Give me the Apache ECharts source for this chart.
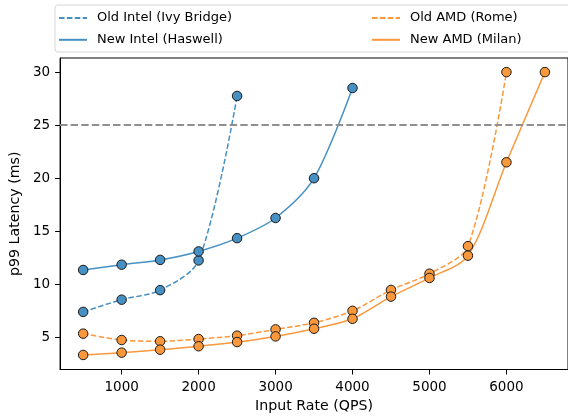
<!DOCTYPE html>
<html>
<head>
<meta charset="utf-8">
<script src="https://cdn.jsdelivr.net/npm/echarts@6/dist/echarts.min.js"></script>
<style>html,body{margin:0;padding:0;background:#fff}#c{width:568px;height:418px}</style>
</head>
<body>
<div id="c"></div>
<script>
// ---- data ----
const qpsIntelOld = [500, 1000, 1500, 2000, 2500];
const latIntelOld = [7.4, 8.55, 9.45, 12.25, 27.75];
const qpsIntelNew = [500, 1000, 1500, 2000, 2500, 3000, 3500, 4000];
const latIntelNew = [11.35, 11.85, 12.3, 13.1, 14.35, 16.25, 20.0, 28.5];
const qpsAmdOld = [500, 1000, 1500, 2000, 2500, 3000, 3500, 4000, 4500, 5000, 5500, 6000];
const latAmdOld = [5.35, 4.75, 4.63, 4.84, 5.16, 5.75, 6.37, 7.5, 9.47, 11.0, 13.6, 30.0];
const qpsAmdNew = [500, 1000, 1500, 2000, 2500, 3000, 3500, 4000, 4500, 5000, 5500, 6000, 6500];
const latAmdNew = [3.34, 3.56, 3.84, 4.16, 4.56, 5.09, 5.81, 6.75, 8.84, 10.6, 12.7, 21.5, 30.0];
const sloLatency = 25;
const xTicks = [1000, 2000, 3000, 4000, 5000, 6000];
const yTicks = [5, 10, 15, 20, 25, 30];
const names = ['Old Intel (Ivy Bridge)', 'New Intel (Haswell)', 'Old AMD (Rome)', 'New AMD (Milan)'];

const BLUE = '#4690c4', ORANGE = '#fb983c';
const FONT = 'DejaVu Sans';
const FS_LEG = 13, FS_TICK = 13.5, FS_NAME = 14.2;

function zip(xs, ys) { return xs.map((x, i) => [x, ys[i]]); }

function mkSeries(name, xs, ys, color, dashed, extra) {
  return Object.assign({
    name: name,
    type: 'line',
    data: zip(xs, ys),
    smooth: 0.3,
    symbol: 'circle',
    symbolSize: 9.5,
    lineStyle: { color: color, width: 1.5, type: dashed ? [5.5, 2.4] : 'solid' },
    itemStyle: { color: color, borderColor: '#1a1a1a', borderWidth: 1 },
    emphasis: { disabled: true },
    animation: false
  }, extra || {});
}

const chart = echarts.init(document.getElementById('c'), null, { renderer: 'canvas' });
const legendCommon = {
  orient: 'vertical',
  top: 11.5,
  padding: 0,
  itemWidth: 28,
  itemHeight: 14,
  itemGap: 8.5,
  itemStyle: { opacity: 0 },
  textStyle: { fontFamily: FONT, fontSize: FS_LEG, color: '#000', padding: [0, 0, 0, 5] },
  selectedMode: false
};
chart.setOption({
  backgroundColor: '#fff',
  animation: false,
  textStyle: { fontFamily: FONT },
  graphic: [{
    type: 'rect',
    shape: { x: 55, y: 5, width: 530, height: 47, r: 3 },
    style: { fill: 'rgba(255,255,255,0.8)', stroke: '#d6d6d6', lineWidth: 1 },
    z: 1
  }],
  legend: [
    Object.assign({ left: 58, data: [names[0], names[1]] }, legendCommon),
    Object.assign({ left: 371, data: [names[2], names[3]] }, legendCommon)
  ],
  grid: { left: 58, top: 58, right: -3, bottom: 46, show: true, borderColor: '#000', borderWidth: 1, containLabel: false },
  xAxis: {
    type: 'value',
    min: 200, max: 6800,
    name: 'Input Rate (QPS)',
    nameLocation: 'middle',
    nameGap: 29.5,
    nameTextStyle: { fontFamily: FONT, fontSize: FS_NAME, color: '#000' },
    axisLine: { show: true, lineStyle: { color: '#000', width: 1 } },
    axisTick: { show: true, length: 5, lineStyle: { color: '#000' }, customValues: xTicks },
    axisLabel: { fontFamily: FONT, fontSize: FS_TICK, color: '#000', margin: 10.5, customValues: xTicks, formatter: v => String(v) },
    splitLine: { show: false }
  },
  yAxis: {
    type: 'value',
    min: 1.97, max: 31.33,
    name: 'p99 Latency (ms)',
    nameLocation: 'middle',
    nameGap: 34,
    nameTextStyle: { fontFamily: FONT, fontSize: FS_NAME, color: '#000' },
    axisLine: { show: true, lineStyle: { color: '#000', width: 1 } },
    axisTick: { show: true, length: 5, lineStyle: { color: '#000' }, customValues: yTicks },
    axisLabel: { fontFamily: FONT, fontSize: FS_TICK, color: '#000', margin: 10, customValues: yTicks, formatter: v => String(v) },
    splitLine: { show: false }
  },
  series: [
    mkSeries(names[0], qpsIntelOld, latIntelOld, BLUE, true, {
      markLine: {
        silent: true, symbol: 'none', label: { show: false },
        lineStyle: { color: '#8f8f8f', width: 2, type: [7.4, 3.2] },
        data: [{ yAxis: sloLatency }],
        animation: false
      }
    }),
    mkSeries(names[1], qpsIntelNew, latIntelNew, BLUE, false),
    mkSeries(names[2], qpsAmdOld, latAmdOld, ORANGE, true),
    mkSeries(names[3], qpsAmdNew, latAmdNew, ORANGE, false)
  ]
});
</script>
</body>
</html>
